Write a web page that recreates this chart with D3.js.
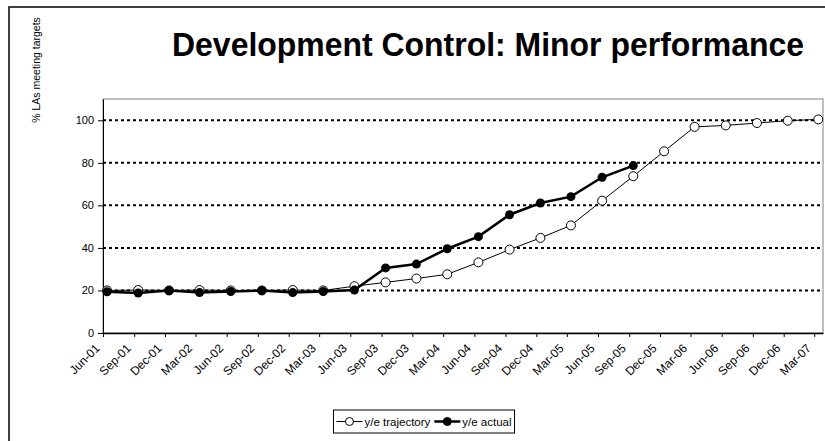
<!DOCTYPE html>
<html>
<head>
<meta charset="utf-8">
<script src="https://d3js.org/d3.v7.min.js"></script>
<style>
body { margin:0; background:#fff; }
svg text { font-family: Arial, "Liberation Sans", sans-serif; fill:#000; }
</style>
</head>
<body>
<div id="chart"></div>
<script>
	//quarter labels on the x axis
	var quarters = ["Jun-01","Sep-01","Dec-01","Mar-02","Jun-02","Sep-02","Dec-02","Mar-03",
		"Jun-03","Sep-03","Dec-03","Mar-04","Jun-04","Sep-04","Dec-04","Mar-05",
		"Jun-05","Sep-05","Dec-05","Mar-06","Jun-06","Sep-06","Dec-06","Mar-07"];
	//% of LAs meeting targets
	var trajectory = [20, 20.2, 20, 20.2, 20, 20, 20.2, 20, 22, 23.8, 25.6, 27.6,
		33.2, 39.2, 44.7, 50.6, 62.2, 73.7, 85.4, 96.9, 97.6, 98.7, 99.8, 100.4];
	var actual = [19.4, 18.8, 20, 19, 19.5, 20, 19, 19.5, 20.2, 30.6, 32.4, 39.6,
		45.3, 55.6, 61.1, 64.1, 73.2, 78.7];
	var yTicks = [0, 20, 40, 60, 80, 100];
	var gridValues = [20, 40, 60, 80, 100];
	var seriesNames = ["y/e trajectory", "y/e actual"];

	var width = 825;
	var height = 441;
	var svg = d3.select("#chart").append("svg")
		.attr("width", width)
		.attr("height", height);

	//outer chart frame (right and bottom edges fall outside the picture)
	svg.append("rect")
		.attr("x", 9).attr("y", 7)
		.attr("width", width).attr("height", height)
		.attr("fill", "none")
		.attr("stroke", "#000")
		.attr("stroke-width", 1.5);

	//ticks sit on the 1st of the month, readings are mid month
	var parseQ = d3.timeParse("%b-%y");
	var tickDates = quarters.map(parseQ);
	var pointDates = tickDates.map(function(d){ return d3.timeDay.offset(d, 12); });

	var x = d3.scaleTime()
		.domain([tickDates[0], d3.timeDay.offset(tickDates[tickDates.length-1], 26)])
		.range([103, 823]);
	var y = d3.scaleLinear()
		.domain([0, 110])
		.range([333, 99]);

	//plot area border
	svg.append("rect")
		.attr("x", x.range()[0]).attr("y", y.range()[1])
		.attr("width", x.range()[1] - x.range()[0])
		.attr("height", y.range()[0] - y.range()[1])
		.attr("fill", "none")
		.attr("stroke", "#808080")
		.attr("stroke-width", 1);

	svg.append("g")
		.selectAll("line")
		.data(gridValues)
		.enter().append("line")
		.attr("x1", x.range()[0]).attr("x2", x.range()[1])
		.attr("y1", function(d){ return y(d); })
		.attr("y2", function(d){ return y(d); })
		.attr("stroke", "#000")
		.attr("stroke-width", 2)
		.attr("stroke-dasharray", "3,3");

	var yAxis = svg.append("g")
		.attr("transform", "translate(" + x.range()[0] + ",0)")
		.call(d3.axisLeft(y).tickValues(yTicks).tickSize(5).tickSizeOuter(0).tickPadding(4));
	yAxis.selectAll("text").style("font-size", "11px");

	var xAxis = svg.append("g")
		.attr("transform", "translate(0," + y.range()[0] + ")")
		.call(d3.axisBottom(x).tickValues(tickDates).tickSize(4).tickSizeOuter(0)
			.tickFormat(function(d, i){ return quarters[i]; }));
	xAxis.select(".domain").attr("stroke-width", 1.5);
	xAxis.selectAll("text")
		.attr("x", 0).attr("y", 0).attr("dy", 0)
		.attr("text-anchor", "end")
		.attr("transform", "translate(-3,16) rotate(-45)")
		.style("font-size", "12px");
	svg.selectAll(".domain, .tick line").attr("stroke", "#000");
	svg.selectAll(".tick text").attr("fill", "#000").style("font-family", "Arial, 'Liberation Sans', sans-serif");

	var line = d3.line()
		.x(function(d, i){ return x(pointDates[i]); })
		.y(function(d){ return y(d); });

	svg.append("path")
		.datum(trajectory)
		.attr("d", line)
		.attr("fill", "none")
		.attr("stroke", "#000")
		.attr("stroke-width", 1);
	svg.append("g")
		.selectAll("circle")
		.data(trajectory)
		.enter().append("circle")
		.attr("cx", function(d, i){ return x(pointDates[i]); })
		.attr("cy", function(d){ return y(d); })
		.attr("r", 4.5)
		.attr("fill", "#fff")
		.attr("stroke", "#000")
		.attr("stroke-width", 1);

	svg.append("path")
		.datum(actual)
		.attr("d", line)
		.attr("fill", "none")
		.attr("stroke", "#000")
		.attr("stroke-width", 2.5);
	svg.append("g")
		.selectAll("circle")
		.data(actual)
		.enter().append("circle")
		.attr("cx", function(d, i){ return x(pointDates[i]); })
		.attr("cy", function(d){ return y(d); })
		.attr("r", 4.5)
		.attr("fill", "#000");

	//titles
	svg.append("text")
		.attr("transform", "translate(488,56) scale(0.94,1)")
		.attr("text-anchor", "middle")
		.style("font-size", "34px")
		.style("font-weight", "bold")
		.text("Development Control: Minor performance");

	svg.append("text")
		.attr("transform", "translate(40,70) rotate(-90)")
		.attr("text-anchor", "middle")
		.style("font-size", "10.5px")
		.text("% LAs meeting targets");

	//legend, laid out from the measured text widths and centred on the frame
	var legend = svg.append("g");
	var legendBox = legend.append("rect")
		.attr("y", 410)
		.attr("height", 23)
		.attr("fill", "#fff")
		.attr("stroke", "#000")
		.attr("stroke-width", 1);
	var items = legend.append("g");
	var lx = 3;
	var ly = 421.5;
	seriesNames.forEach(function(name, i){
		items.append("line")
			.attr("x1", lx).attr("x2", lx + 26)
			.attr("y1", ly).attr("y2", ly)
			.attr("stroke", "#000")
			.attr("stroke-width", i == 0 ? 1 : 2.5);
		items.append("circle")
			.attr("cx", lx + 13).attr("cy", ly)
			.attr("r", 4)
			.attr("fill", i == 0 ? "#fff" : "#000")
			.attr("stroke", "#000");
		var t = items.append("text")
			.attr("x", lx + 28).attr("y", ly + 4)
			.style("font-size", "11.5px")
			.text(name);
		lx = lx + 28 + t.node().getComputedTextLength() + 4;
	});
	var boxW = lx - 1;
	var boxX = 424 - boxW / 2;
	legendBox.attr("x", boxX).attr("width", boxW);
	items.attr("transform", "translate(" + boxX + ",0)");
</script>
</body>
</html>
